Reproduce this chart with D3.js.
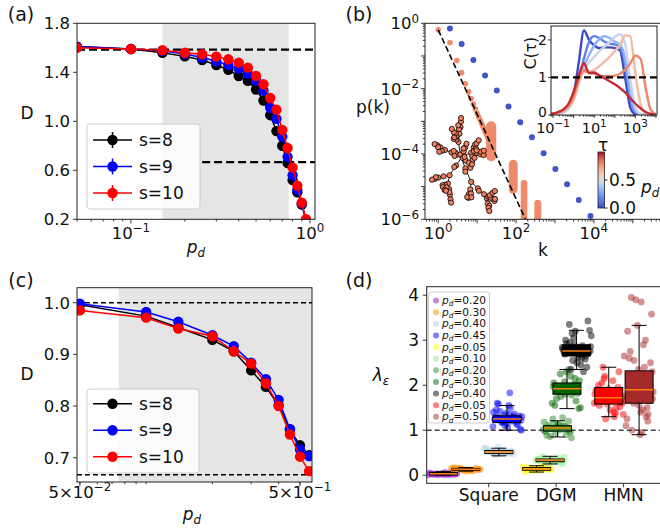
<!DOCTYPE html>
<html>
<head>
<meta charset="utf-8">
<script src="https://cdn.jsdelivr.net/npm/d3@7"></script>
<style>
  body { margin: 0; background: #fff; }
  svg { display: block; font-family: "DejaVu Sans", sans-serif; }
</style>
</head>
<body>
<svg id="fig" width="660" height="532"></svg>
<script>
// ---------- (a) fractal dimension vs p_d ----------
const pA = [0.05, 0.1, 0.15, 0.2, 0.25, 0.3, 0.35, 0.4, 0.45, 0.5, 0.55, 0.6, 0.65, 0.7, 0.75, 0.8, 0.85, 0.9, 0.95];
const dA8 = [1.61, 1.59, 1.56, 1.53, 1.50, 1.46, 1.42, 1.37, 1.33, 1.26, 1.17, 1.05, 0.92, 0.80, 0.66, 0.52, 0.42, 0.32, 0.19];
const dA9 = [1.61, 1.59, 1.575, 1.55, 1.52, 1.49, 1.46, 1.43, 1.39, 1.33, 1.25, 1.11, 1.02, 0.875, 0.71, 0.56, 0.44, 0.33, 0.19];
const dA10 = [1.60, 1.59, 1.58, 1.56, 1.547, 1.528, 1.506, 1.479, 1.438, 1.37, 1.302, 1.19, 1.095, 0.929, 0.782, 0.622, 0.475, 0.336, 0.2];
const shadeA = [0.15, 0.76];
const refA = [1.585, 0.667];
const seriesLabels = ["s=8", "s=9", "s=10"];

// ---------- (b) degree distribution ----------
const kBlue = [2, 4, 8, 16, 32, 64, 128, 256, 512, 1024, 2048, 4096, 8192];
const logpBlue = [-0.16, -0.63, -1.12, -1.60, -2.06, -2.55, -3.03, -3.49, -3.98, -4.46, -4.93, -5.41, -5.9];
const kOrange = [1, 2, 3, 4, 5, 6, 7, 8, 9, 10, 11, 12, 13, 14, 15, 16, 17, 18, 19, 20];
const logpOrange = [-0.2, -0.59, -1.14, -1.51, -1.85, -2.1, -2.3, -2.47, -2.62, -2.76, -2.87, -2.97, -3.06, -3.15, -3.23, -3.31, -3.38, -3.44, -3.5, -3.56];
// dense bands of points at large k: [k from, k to, p top, p bottom]
const bandK0 = [17, 65, 132, 295];
const bandK1 = [31, 110, 195, 447];
const bandPTop = [1e-3, 6.6e-5, 1.6e-5, 4e-6];
const bandPBot = [8e-5, 8e-6, 1e-6, 1e-6];
const fitK = [1, 175];
const fitP = [0.63, 1e-6];
// example network drawn in (b): parent of every node
const treeParent = [-1, 0, 1, 2, 3, 4, 5, 6, 7, 8, 9, 10, 11,
  1, 13, 13, 14, 14, 15, 15, 16, 13, 21, 21,
  3, 24, 24, 24, 25, 25, 26, 26, 27, 27, 28, 29, 30, 24, 37, 37, 3, 40, 40, 41,
  5, 44, 45, 45, 46, 44, 49,
  7, 51, 51, 51, 52, 52, 53, 53, 54, 54, 55, 56, 7, 63, 63, 64,
  9, 67, 68, 68, 67, 71,
  11, 73, 73, 74, 74, 12, 12, 78, 79, 79,
  2, 4, 6, 8, 10, 0, 88, 88, 89, 20, 33, 36, 60, 61, 66, 80, 82];

// inset C(tau)
const logTau = [-1.1, -0.75, -0.5, -0.25, 0, 0.25, 0.5, 0.75, 1, 1.25, 1.5, 1.75, 2, 2.25, 2.5, 2.75, 3, 3.25, 3.5, 3.75, 4];
const insetPd = [0, 0.15, 0.3, 0.45, 0.65, 0.8, 0.95];
const cTau = [
  [0.02, 0.05, 0.1, 0.22, 0.55, 1.4, 2.25, 2.0, 1.85, 1.78, 1.8, 1.8, 1.78, 1.72, 1.0, 0.2, 0.02, 0, 0, 0, 0],
  [0.02, 0.04, 0.08, 0.18, 0.45, 0.95, 1.5, 1.95, 2.1, 2.05, 1.95, 1.9, 1.88, 1.8, 1.35, 0.45, 0.08, 0.01, 0, 0, 0],
  [0.02, 0.04, 0.08, 0.18, 0.42, 0.9, 1.3, 1.6, 1.85, 2.02, 2.1, 2.05, 1.95, 1.88, 1.5, 0.6, 0.12, 0.02, 0, 0, 0],
  [0.02, 0.04, 0.08, 0.18, 0.4, 0.85, 1.2, 1.4, 1.55, 1.7, 1.82, 1.95, 2.08, 2.15, 1.9, 0.95, 0.2, 0.03, 0, 0, 0],
  [0.02, 0.05, 0.1, 0.2, 0.4, 0.85, 1.15, 1.15, 1.2, 1.3, 1.42, 1.55, 1.7, 1.85, 2.12, 2.1, 1.1, 0.3, 0.05, 0.01, 0],
  [0.03, 0.06, 0.12, 0.25, 0.5, 0.95, 1.2, 1.12, 1.1, 1.05, 1.03, 1.03, 1.05, 1.1, 1.2, 1.38, 1.58, 1.5, 0.72, 0.13, 0.02],
  [0.03, 0.08, 0.15, 0.3, 0.62, 1.05, 1.38, 1.12, 1.13, 1.05, 0.98, 0.9, 0.82, 0.72, 0.6, 0.45, 0.3, 0.18, 0.08, 0.03, 0.01]
];

// ---------- (c) ----------
const pC = [0.05, 0.1, 0.14, 0.2, 0.25, 0.3, 0.35, 0.4, 0.45, 0.5, 0.55];
const dC8 = [0.996, 0.974, 0.952, 0.928, 0.906, 0.869, 0.837, 0.801, 0.755, 0.724, 0.705];
const dC9 = [0.998, 0.982, 0.963, 0.937, 0.916, 0.884, 0.852, 0.812, 0.755, 0.716, 0.703];
const dC10 = [0.985, 0.971, 0.95, 0.935, 0.906, 0.882, 0.844, 0.8, 0.745, 0.702, 0.674];
const shadeC = [0.075, 0.6];
const refC = [1.0, 0.667];

// ---------- (d) lambda boxplots ----------
const dCats = ["Square", "DGM", "HMN"];
const dLabels = ["0.20", "0.30", "0.40", "0.45", "0.05", "0.10", "0.20", "0.30", "0.40", "0.05", "0.50"];
const dXpos = [-0.67, -0.34, 0.15, 0.27, 0.71, 0.91, 1.02, 1.16, 1.3, 1.78, 2.23];
const dColors = ["#8a10c0", "#ff8c00", "#add8e6", "#0000ff", "#ffff00", "#90ee90", "#2e8b2e", "#006400", "#000000", "#ff0000", "#a52a2a"];
const dWhiskLo = [0.0, 0.09, 0.43, 1.0, 0.07, 0.25, 0.85, 1.48, 2.35, 1.3, 0.9];
const dQ1 = [0.01, 0.11, 0.48, 1.17, 0.11, 0.3, 0.98, 1.8, 2.65, 1.58, 1.6];
const dMed = [0.03, 0.13, 0.515, 1.25, 0.14, 0.33, 1.05, 1.92, 2.76, 1.72, 1.9];
const dQ3 = [0.06, 0.15, 0.55, 1.32, 0.17, 0.36, 1.1, 2.05, 2.9, 1.95, 2.32];
const dWhiskHi = [0.08, 0.17, 0.6, 1.55, 0.21, 0.42, 1.21, 2.35, 3.22, 2.4, 3.33];
const dPoints = [
  [0.01, 0.02, 0.03, 0.02, 0.04, 0.03, 0.05, 0.01, 0.03, 0.06, 0.02, 0.04, 0.03, 0.05, 0.02, 0.03, 0.04, 0.01, 0.03, 0.02],
  [0.12, 0.13, 0.11, 0.14, 0.15, 0.12, 0.13, 0.10, 0.16, 0.13, 0.12, 0.14, 0.11, 0.13, 0.15, 0.12, 0.14, 0.13, 0.09, 0.17],
  [0.5, 0.52, 0.48, 0.55, 0.53, 0.51, 0.47, 0.58, 0.52, 0.5, 0.54, 0.49, 0.56, 0.52, 0.45, 0.6, 0.51, 0.53, 0.48, 0.62],
  [1.25, 1.3, 1.18, 1.22, 1.35, 1.28, 1.15, 1.1, 1.4, 1.2, 1.27, 1.32, 1.05, 1.45, 1.23, 1.19, 1.3, 1.5, 1.26, 1.12, 1.38, 1.24, 1.29, 1.17, 1.02, 1.55, 1.6, 1.21, 1.33, 1.08, 1.27, 1.42, 1.25, 1.14, 1.3, 1.36, 1.22, 1.0, 1.83, 1.58],
  [0.14, 0.12, 0.16, 0.13, 0.15, 0.11, 0.17, 0.14, 0.1, 0.19, 0.13, 0.15, 0.12, 0.16, 0.08, 0.21, 0.14, 0.13, 0.18, 0.12],
  [0.33, 0.3, 0.35, 0.32, 0.36, 0.29, 0.34, 0.31, 0.38, 0.27, 0.33, 0.35, 0.42, 0.25, 0.32, 0.37, 0.3, 0.34, 0.4, 0.31],
  [1.05, 1.0, 1.08, 0.98, 1.1, 1.03, 0.95, 1.12, 1.06, 0.9, 1.15, 1.02, 1.07, 0.86, 1.2, 1.04, 0.97, 1.09, 1.25, 0.83, 1.01, 1.11, 1.06, 0.93, 1.18, 1.28, 1.04, 0.99, 1.13, 0.88],
  [1.92, 1.85, 2.0, 1.8, 2.05, 1.95, 1.75, 2.1, 1.88, 1.7, 2.15, 1.98, 1.6, 2.2, 1.9, 1.82, 2.3, 1.55, 2.02, 1.93, 1.5, 2.35, 1.86, 1.65, 2.08, 1.97, 1.78, 2.25, 1.48, 1.9],
  [2.76, 2.7, 2.85, 2.65, 2.9, 2.8, 2.6, 2.95, 2.72, 2.5, 3.0, 2.78, 2.55, 3.1, 2.68, 2.82, 2.4, 3.2, 2.74, 2.88, 2.35, 3.22, 2.62, 2.92, 2.58, 3.05, 2.84, 2.45, 3.35, 3.43, 2.77, 2.69, 2.3, 3.15, 2.86],
  [1.72, 1.6, 1.85, 1.55, 1.95, 1.68, 1.8, 1.4, 2.05, 1.62, 1.75, 1.9, 1.5, 2.2, 1.35, 1.78, 1.65, 2.3, 1.58, 1.88, 1.3, 2.4, 1.7, 1.45, 2.0, 1.82, 1.25, 1.6, 2.1, 1.74, 1.52, 1.92, 1.66, 1.38, 2.15],
  [1.9, 1.6, 2.3, 1.4, 2.6, 1.2, 2.0, 1.75, 2.9, 1.0, 2.5, 1.55, 3.2, 1.3, 2.2, 1.85, 0.95, 2.75, 1.65, 3.33, 1.1, 2.4, 1.95, 3.58, 0.9, 2.1, 1.5, 3.9, 2.65, 1.45, 3.95, 1.8, 2.35, 1.25, 3.0, 2.55, 1.7, 3.85, 2.15, 1.35]
];

// ---------- helpers ----------
const svg = d3.select("#fig");
const INK = "#222";
const FS = 16.5;
const coolwarm = d3.scaleLinear()
  .domain([0, 0.1, 0.2, 0.3, 0.4, 0.5, 0.6, 0.7, 0.8, 0.9, 1])
  .range(["#3b4cc0", "#5470de", "#6a8bef", "#8db0fe", "#b0cbfa", "#dddcdc", "#f2cbb7", "#f5ab8d", "#ee8468", "#d65244", "#b40426"]);

let clipN = 0;
function clipRect(x0, y0, x1, y1) {
  const id = "clip" + (clipN++);
  svg.append("clipPath").attr("id", id).append("rect")
    .attr("x", x0).attr("y", y0).attr("width", x1 - x0).attr("height", y1 - y0);
  return "url(#" + id + ")";
}
function frame(g, x0, y0, x1, y1) {
  g.append("rect").attr("x", x0).attr("y", y0).attr("width", x1 - x0).attr("height", y1 - y0)
    .attr("fill", "none").attr("stroke", INK).attr("stroke-width", 1);
}
function logTicks(scale) {
  const [a, b] = scale.domain();
  const out = [];
  for (let e = Math.floor(Math.log10(a)); e <= Math.ceil(Math.log10(b)); e++) {
    for (let m = 1; m < 10; m++) {
      const v = m * Math.pow(10, e);
      if (v >= a * 0.999 && v <= b * 1.001) out.push({ v: v, major: m === 1 });
    }
  }
  return out;
}
function ticksX(g, scale, vals, y, len) {
  g.selectAll(null).data(vals).join("line")
    .attr("x1", d => scale(d)).attr("x2", d => scale(d))
    .attr("y1", y).attr("y2", y + len).attr("stroke", INK).attr("stroke-width", 0.9);
}
function ticksY(g, scale, vals, x, len) {
  g.selectAll(null).data(vals).join("line")
    .attr("y1", d => scale(d)).attr("y2", d => scale(d))
    .attr("x1", x).attr("x2", x - len).attr("stroke", INK).attr("stroke-width", 0.9);
}
function powText(g, x, y, base, exp, anchor, size) {
  const t = g.append("text").attr("x", x).attr("y", y).attr("text-anchor", anchor)
    .attr("font-size", size).attr("fill", "#111");
  t.append("tspan").text(base);
  t.append("tspan").attr("dy", "-0.55em").attr("font-size", "0.72em").text(exp);
  return t;
}
function pdText(g, x, y, anchor, size, suffix) {
  const t = g.append("text").attr("x", x).attr("y", y).attr("text-anchor", anchor)
    .attr("font-size", size).attr("fill", "#111");
  t.append("tspan").attr("font-style", "italic").text("p");
  t.append("tspan").attr("font-style", "italic").attr("font-size", "0.7em").attr("dy", "0.3em").text("d");
  if (suffix) t.append("tspan").attr("dy", "-0.21em").text(suffix);
  return t;
}
function label(g, x, y, txt, size, anchor) {
  return g.append("text").attr("x", x).attr("y", y).attr("text-anchor", anchor || "middle")
    .attr("font-size", size).attr("fill", "#111").text(txt);
}
const minus = "\u2212";

// ---------- panel (a) ----------
(function () {
  const L = 77, R = 315, T = 23.3, B = 219.3;
  const g = svg.append("g");
  const x = d3.scaleLog().domain([0.05, 1.067]).range([L, R]);
  const y = d3.scaleLinear().domain([0.2, 1.8]).range([B, T]);
  const clip = clipRect(L, T, R, B);
  g.append("rect").attr("x", x(shadeA[0])).attr("y", T).attr("width", x(shadeA[1]) - x(shadeA[0]))
    .attr("height", B - T).attr("fill", "#e5e5e5");
  g.append("line").attr("x1", L).attr("x2", R).attr("y1", y(refA[0])).attr("y2", y(refA[0]))
    .attr("stroke", "#000").attr("stroke-width", 2.4).attr("stroke-dasharray", "8,4");
  g.append("line").attr("x1", x(0.25)).attr("x2", R).attr("y1", y(refA[1])).attr("y2", y(refA[1]))
    .attr("stroke", "#000").attr("stroke-width", 2.4).attr("stroke-dasharray", "8,4");
  const series = [dA8, dA9, dA10];
  const cols = ["#000000", "#0000ff", "#ff0000"];
  const pg = g.append("g").attr("clip-path", clip);
  series.forEach((s, i) => {
    pg.append("path").datum(s).attr("fill", "none").attr("stroke", cols[i]).attr("stroke-width", 1.5)
      .attr("d", d3.line().x((d, j) => x(pA[j])).y(d => y(d)));
    pg.selectAll(null).data(s).join("circle")
      .attr("cx", (d, j) => x(pA[j])).attr("cy", d => y(d)).attr("r", 5.2).attr("fill", cols[i]);
  });
  frame(g, L, T, R, B);
  const lt = logTicks(x);
  ticksX(g, x, lt.filter(d => d.major).map(d => d.v), B, 4);
  ticksX(g, x, lt.filter(d => !d.major).map(d => d.v), B, 2.2);
  powText(g, x(0.1), 239, "10", minus + "1", "middle", FS);
  powText(g, x(1), 239, "10", "0", "middle", FS);
  const yt = [0.2, 0.6, 1.0, 1.4, 1.8];
  ticksY(g, y, yt, L, 4);
  yt.forEach(v => label(g, 70, y(v) + 6, v.toFixed(1), FS, "end"));
  pdText(g, 196, 253, "middle", 17);
  label(g, 27, 119, "D", 17);
  label(g, 21, 21, "(a)", 19);
  // legend
  const lg = g.append("g");
  lg.append("rect").attr("x", 87).attr("y", 124).attr("width", 113).attr("height", 85).attr("rx", 3)
    .attr("fill", "#fff").attr("fill-opacity", 0.85).attr("stroke", "#ccc");
  seriesLabels.forEach((s, i) => {
    const yy = 140 + i * 26.5;
    lg.append("line").attr("x1", 93).attr("x2", 132).attr("y1", yy).attr("y2", yy).attr("stroke", cols[i]).attr("stroke-width", 1.5);
    lg.append("line").attr("x1", 112.5).attr("x2", 112.5).attr("y1", yy - 8).attr("y2", yy + 8).attr("stroke", cols[i]).attr("stroke-width", 1.5);
    lg.append("circle").attr("cx", 112.5).attr("cy", yy).attr("r", 5.2).attr("fill", cols[i]);
    label(lg, 139, yy + 6, s, 17, "start");
  });
})();

// ---------- panel (b) ----------
(function () {
  const L = 425, R = 660, T = 23.3, B = 219.3;
  const g = svg.append("g");
  const x = d3.scaleLog().domain([Math.pow(10, -0.34), Math.pow(10, 5.7)]).range([L, R]);
  const y = d3.scaleLog().domain([1e-6, 1]).range([B, T]);
  const clip = clipRect(L, T, R, B);
  const pg = g.append("g").attr("clip-path", clip);
  const orange = "#ef8b6c";
  // bands of overlapping points
  pg.selectAll(null).data(bandK0).join("rect")
    .attr("x", (d, i) => x(bandK0[i])).attr("width", (d, i) => x(bandK1[i]) - x(bandK0[i]))
    .attr("y", (d, i) => y(bandPTop[i])).attr("height", (d, i) => y(bandPBot[i]) - y(bandPTop[i]) + 4)
    .attr("rx", (d, i) => (x(bandK1[i]) - x(bandK0[i])) / 2)
    .attr("fill", orange);
  pg.selectAll(null).data(kOrange).join("circle")
    .attr("cx", d => x(d)).attr("cy", (d, i) => y(Math.pow(10, logpOrange[i]))).attr("r", 2.8).attr("fill", orange);
  pg.append("line").attr("x1", x(fitK[0])).attr("y1", y(fitP[0])).attr("x2", x(fitK[1])).attr("y2", y(fitP[1]))
    .attr("stroke", "#000").attr("stroke-width", 1.6).attr("stroke-dasharray", "6,3");
  pg.selectAll(null).data(kBlue).join("circle")
    .attr("cx", d => x(d)).attr("cy", (d, i) => y(Math.pow(10, logpBlue[i]))).attr("r", 3).attr("fill", "#3f55c8");

  // network sketch
  const nodes = treeParent.map((p, i) => ({ id: i }));
  const links = treeParent.map((p, i) => ({ source: p, target: i })).filter(l => l.source >= 0);
  const sim = d3.forceSimulation(nodes)
    .force("link", d3.forceLink(links).distance(10).strength(1))
    .force("charge", d3.forceManyBody().strength(-14))
    .stop();
  for (let i = 0; i < 400; i++) sim.tick();
  const ex = d3.extent(nodes, d => d.x), ey = d3.extent(nodes, d => d.y);
  const swap = (ex[1] - ex[0]) > (ey[1] - ey[0]);
  const px = d => swap ? d.y : d.x, py = d => swap ? d.x : d.y;
  const nx = d3.scaleLinear().domain(d3.extent(nodes, px)).range([432, 495]);
  const ny = d3.scaleLinear().domain(d3.extent(nodes, py)).range([118, 211]);
  const tg = g.append("g");
  tg.selectAll(null).data(links).join("line")
    .attr("x1", d => nx(px(d.source))).attr("y1", d => ny(py(d.source)))
    .attr("x2", d => nx(px(d.target))).attr("y2", d => ny(py(d.target)))
    .attr("stroke", "#000").attr("stroke-width", 0.9);
  tg.selectAll(null).data(nodes).join("circle")
    .attr("cx", d => nx(px(d))).attr("cy", d => ny(py(d))).attr("r", 2.6)
    .attr("fill", "#f0805f").attr("stroke", "#000").attr("stroke-width", 0.8);

  frame(g, L, T, R + 2, B);
  const lt = logTicks(x);
  ticksX(g, x, lt.filter(d => d.major).map(d => d.v), B, 4);
  ticksX(g, x, lt.filter(d => !d.major).map(d => d.v), B, 2.2);
  [[1, "0"], [100, "2"], [1e4, "4"]].forEach(t => powText(g, x(t[0]), 239, "10", t[1], "middle", FS));
  const ltY = logTicks(y);
  ticksY(g, y, ltY.filter(d => d.major).map(d => d.v), L, 4);
  ticksY(g, y, ltY.filter(d => !d.major).map(d => d.v), L, 2.2);
  [[1, "0"], [1e-2, minus + "2"], [1e-4, minus + "4"], [1e-6, minus + "6"]].forEach(t =>
    powText(g, 419, y(t[0]) + 6, "10", t[1], "end", FS));
  label(g, 543, 256, "k", 17);
  label(g, 373, 113, "p(k)", 17);
  label(g, 359, 21, "(b)", 19);

  // inset
  const iL = 551, iR = 657, iT = 26, iB = 115;
  const ix = d3.scaleLog().domain([Math.pow(10, -1.1), Math.pow(10, 4.05)]).range([iL, iR]);
  const iy = d3.scaleLinear().domain([0, 2.37]).range([iB, iT]);
  g.append("rect").attr("x", iL).attr("y", iT).attr("width", iR - iL).attr("height", iB - iT).attr("fill", "#fff");
  const ig = g.append("g").attr("clip-path", clipRect(iL, iT, iR, iB));
  cTau.forEach((c, i) => {
    ig.append("path").datum(c).attr("fill", "none").attr("stroke", coolwarm(insetPd[i])).attr("stroke-width", 2.4)
      .attr("d", d3.line().curve(d3.curveMonotoneX).x((d, j) => ix(Math.pow(10, logTau[j]))).y(d => iy(d)));
  });
  g.append("line").attr("x1", iL).attr("x2", 659).attr("y1", iy(1)).attr("y2", iy(1))
    .attr("stroke", "#000").attr("stroke-width", 2.2).attr("stroke-dasharray", "7,4");
  frame(g, iL, iT, iR, iB);
  const ilt = logTicks(ix);
  ticksX(g, ix, ilt.filter(d => d.major).map(d => d.v), iB, 3);
  ticksX(g, ix, ilt.filter(d => !d.major).map(d => d.v), iB, 1.6);
  [[0.1, minus + "1"], [10, "1"], [1000, "3"]].forEach(t => powText(g, ix(t[0]), 133, "10", t[1], "middle", 14.5));
  ticksY(g, iy, [0, 1, 2], iL, 3);
  [0, 1, 2].forEach(v => label(g, 547, iy(v) + (v === 0 ? 2 : 5), String(v), 14, "end"));
  g.append("text").attr("transform", "translate(536,53) rotate(-90)").attr("text-anchor", "middle")
    .attr("font-size", 15.5).attr("fill", "#111").text("C(\u03c4)");
  label(g, 603, 151, "\u03c4", 17);

  // colorbar
  const defs = svg.append("defs");
  const grad = defs.append("linearGradient").attr("id", "cw").attr("x1", 0).attr("y1", 1).attr("x2", 0).attr("y2", 0);
  d3.range(0, 1.001, 0.1).forEach(v => grad.append("stop").attr("offset", v).attr("stop-color", coolwarm(v)));
  const cy = d3.scaleLinear().domain([0, 1]).range([208, 152]);
  g.append("rect").attr("x", 598).attr("y", cy(1)).attr("width", 6.5).attr("height", cy(0) - cy(1))
    .attr("fill", "url(#cw)").attr("stroke", INK).attr("stroke-width", 0.8);
  [0, 0.5].forEach(v => {
    g.append("line").attr("x1", 604.5).attr("x2", 607.5).attr("y1", cy(v)).attr("y2", cy(v)).attr("stroke", INK);
    label(g, 609, cy(v) + 6, v.toFixed(1), 17, "start");
  });
  pdText(g, 641, 193, "start", 17);
})();

// ---------- panel (c) ----------
(function () {
  const L = 77, R = 312, T = 287.7, B = 482;
  const g = svg.append("g");
  const x = d3.scaleLog().domain([0.0485, 0.567]).range([L, R]);
  const y = d3.scaleLinear().domain([0.653, 1.029]).range([B, T]);
  const clip = clipRect(L, T, R, B);
  g.append("rect").attr("x", x(shadeC[0])).attr("y", T).attr("width", Math.min(x(shadeC[1]), R) - x(shadeC[0]))
    .attr("height", B - T).attr("fill", "#e5e5e5");
  refC.forEach(v => g.append("line").attr("x1", L).attr("x2", R).attr("y1", y(v)).attr("y2", y(v))
    .attr("stroke", "#000").attr("stroke-width", 1.5).attr("stroke-dasharray", "5,3"));
  const series = [dC8, dC9, dC10];
  const cols = ["#000000", "#0000ff", "#ff0000"];
  const pg = g.append("g").attr("clip-path", clip);
  series.forEach((s, i) => {
    pg.append("path").datum(s).attr("fill", "none").attr("stroke", cols[i]).attr("stroke-width", 1.5)
      .attr("d", d3.line().x((d, j) => x(pC[j])).y(d => y(d)));
    pg.selectAll(null).data(s).join("circle")
      .attr("cx", (d, j) => x(pC[j])).attr("cy", d => y(d)).attr("r", 5.2).attr("fill", cols[i]);
  });
  frame(g, L, T, R, B);
  const lt = logTicks(x);
  ticksX(g, x, lt.map(d => d.v), B, 2.2);
  ticksX(g, x, [0.05, 0.5], B, 4);
  [0.05, 0.5].forEach((v, i) => powText(g, x(v), 498, "5\u00d710", minus + (i === 0 ? "2" : "1"), "middle", FS));
  const yt = [0.7, 0.8, 0.9, 1.0];
  ticksY(g, y, yt, L, 4);
  yt.forEach(v => label(g, 70, y(v) + 6, v.toFixed(1), FS, "end"));
  pdText(g, 192, 520, "middle", 17);
  label(g, 27, 380, "D", 17);
  label(g, 21, 287, "(c)", 19);
  const lg = g.append("g");
  lg.append("rect").attr("x", 87).attr("y", 389).attr("width", 112).attr("height", 84).attr("rx", 3)
    .attr("fill", "#fff").attr("fill-opacity", 0.85).attr("stroke", "#ccc");
  seriesLabels.forEach((s, i) => {
    const yy = 403.7 + i * 26.5;
    lg.append("line").attr("x1", 93).attr("x2", 132).attr("y1", yy).attr("y2", yy).attr("stroke", cols[i]).attr("stroke-width", 1.5);
    lg.append("circle").attr("cx", 112.5).attr("cy", yy).attr("r", 5.2).attr("fill", cols[i]);
    label(lg, 139, yy + 6, s, 17, "start");
  });
})();

// ---------- panel (d) ----------
(function () {
  const L = 426.7, R = 660, T = 286.7, B = 483.3;
  const g = svg.append("g");
  const x = d3.scaleLinear().domain([-0.92, 2.54]).range([L, R]);
  const y = d3.scaleLinear().domain([-0.18, 4.19]).range([B, T]);
  const pg = g.append("g").attr("clip-path", clipRect(L, T, R, B));
  const boxW = 28, capW = 15, jitW = 30;
  dPoints.forEach((vals, i) => {
    pg.selectAll(null).data(vals).join("circle")
      .attr("cx", (d, j) => x(dXpos[i]) + (((j * 0.6180339887 + i * 0.37) % 1) - 0.5) * jitW)
      .attr("cy", d => y(d)).attr("r", 3.4)
      .attr("fill", dColors[i]).attr("fill-opacity", 0.5);
  });
  pg.append("line").attr("x1", L).attr("x2", R).attr("y1", y(1)).attr("y2", y(1))
    .attr("stroke", "#444").attr("stroke-width", 1.5).attr("stroke-dasharray", "5,3");
  dXpos.forEach((xp, i) => {
    const cx = x(xp);
    const bg = pg.append("g");
    bg.append("line").attr("x1", cx).attr("x2", cx).attr("y1", y(dWhiskLo[i])).attr("y2", y(dQ1[i])).attr("stroke", "#000");
    bg.append("line").attr("x1", cx).attr("x2", cx).attr("y1", y(dQ3[i])).attr("y2", y(dWhiskHi[i])).attr("stroke", "#000");
    [dWhiskLo[i], dWhiskHi[i]].forEach(v => bg.append("line").attr("x1", cx - capW / 2).attr("x2", cx + capW / 2)
      .attr("y1", y(v)).attr("y2", y(v)).attr("stroke", "#000"));
    bg.append("rect").attr("x", cx - boxW / 2).attr("width", boxW)
      .attr("y", y(dQ3[i])).attr("height", Math.max(y(dQ1[i]) - y(dQ3[i]), 1.5))
      .attr("fill", dColors[i]).attr("stroke", "#000").attr("stroke-width", 1);
    bg.append("line").attr("x1", cx - boxW / 2).attr("x2", cx + boxW / 2).attr("y1", y(dMed[i])).attr("y2", y(dMed[i]))
      .attr("stroke", "#ff7f0e").attr("stroke-width", 1.5);
  });
  frame(g, L, T, R + 2, B);
  ticksX(g, x, [0, 1, 2], B, 4);
  dCats.forEach((c, i) => label(g, x(i), 501, c, 17));
  const yt = [0, 1, 2, 3, 4];
  ticksY(g, y, yt, L, 4);
  yt.forEach(v => label(g, 419, y(v) + 6, String(v), 17, "end"));
  const yl = g.append("text").attr("x", 381).attr("y", 381).attr("text-anchor", "middle").attr("font-size", 17).attr("fill", "#111");
  yl.append("tspan").attr("font-style", "italic").text("\u03bb");
  yl.append("tspan").attr("font-style", "italic").attr("font-size", "0.7em").attr("dy", "0.3em").text("\u03b5");
  label(g, 359, 287, "(d)", 19);
  const lg = g.append("g");
  lg.append("rect").attr("x", 428.5).attr("y", 292).attr("width", 61).attr("height", 131).attr("rx", 2.5)
    .attr("fill", "#fff").attr("fill-opacity", 0.85).attr("stroke", "#ccc");
  dLabels.forEach((s, i) => {
    const yy = 300.5 + i * 11.63;
    lg.append("circle").attr("cx", 436).attr("cy", yy).attr("r", 3).attr("fill", dColors[i]).attr("fill-opacity", 0.5);
    pdText(lg, 442, yy + 3.5, "start", 10.6, "=" + s);
  });
})();
</script>
</body>
</html>
